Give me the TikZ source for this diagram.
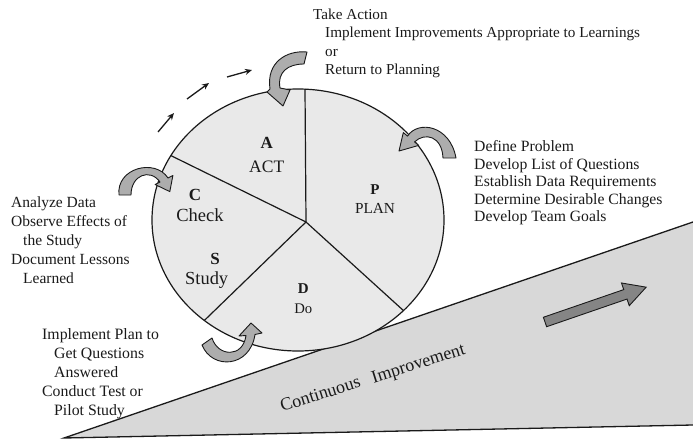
\documentclass[tikz,border=0pt]{standalone}
\usepackage{fontspec}
\setmainfont{Liberation Serif}
\usetikzlibrary{arrows.meta}
\definecolor{piefill}{HTML}{E9E9E9}
\definecolor{trifill}{HTML}{D8D8D8}
\definecolor{bandfill}{HTML}{ADADAD}
\definecolor{bigfill}{HTML}{858585}
\definecolor{inkc}{HTML}{1A1A1A}
\begin{document}
\begin{tikzpicture}[x=1pt,y=-1pt,
  edgeline/.style={draw=inkc,line width=1.3pt},
  pieline/.style={draw=inkc,line width=1.2pt},
  band/.style={draw=inkc,fill=bandfill,line width=0.9pt,line join=round},
  bigarrow/.style={draw=inkc,fill=bigfill,line width=0.9pt,line join=miter},
  smallarrow/.style={draw=inkc,line width=1.3pt,-{Stealth[length=7pt,width=6pt]}},
  sidetext/.style={align=left,inner sep=0pt,anchor=north west,text=inkc},
  pielabel/.style={inner sep=0pt,anchor=base,text=inkc},
  slopetext/.style={inner sep=0pt,rotate=17.5,text=inkc,font=\fontsize{18}{20}\selectfont}]
\useasboundingbox (0,0) rectangle (693,441);
% slope
\fill[trifill] (64,438) -- (693,222) -- (693,425) -- cycle;
\draw[edgeline] (693,222) -- (64,438) -- (693,425);
% pie
\coordinate (pc) at (306,222);
\coordinate (e1) at (305,89);
\coordinate (e2) at (170.9,155.6);
\coordinate (e3) at (204.3,320.5);
\coordinate (e4) at (403.5,310.6);
\filldraw[fill=piefill,draw=inkc,line width=1.2pt] (298,220) ellipse [x radius=146, y radius=131];
\draw[pieline] (pc) -- (e1);
\draw[pieline] (pc) -- (e2);
\draw[pieline] (pc) -- (e3);
\draw[pieline] (pc) -- (e4);
% curved arrows
\draw[band] (307,52) .. controls (287,50) and (266,62) .. (270,89) -- (267,92) -- (283,106) -- (290,90) -- (280,88) .. controls (277,72) and (288,64) .. (304,64) -- cycle;
\draw[band] (456,158) .. controls (450,125) and (418,120) .. (407.5,136.1) -- (403.3,132.6) -- (399,151) -- (418.7,145.4) -- (414.5,141.9) .. controls (425,132) and (442,136) .. (443,158) -- cycle;
\draw[band] (119,195) .. controls (116,168) and (155,158) .. (168,178) -- (172.9,175.5) -- (169.8,191.6) -- (155.1,184.5) -- (160,182) .. controls (150,168) and (131,175) .. (131,195) -- cycle;
\draw[band] (202,345) .. controls (212,370) and (250,368) .. (255,334.5) -- (262,333) -- (251,323) -- (239,336) -- (246,335.5) .. controls (243,358) and (218,357) .. (212,338) -- cycle;
% small arrows
\coordinate (s1a) at (158,132); \coordinate (s1b) at (174,113);
\coordinate (s2a) at (187,99);  \coordinate (s2b) at (209,83);
\coordinate (s3a) at (227,77);  \coordinate (s3b) at (252,70);
\draw[smallarrow] (s1a) -- (s1b);
\draw[smallarrow] (s2a) -- (s2b);
\draw[smallarrow] (s3a) -- (s3b);
% big arrow
\begin{scope}[shift={(545,322)},rotate=19]
\draw[bigarrow] (0,-5) -- (85,-5) -- (85,-12) -- (107,0) -- (85,12) -- (85,5) -- (0,5) -- cycle;
\end{scope}
% pie labels
\node[pielabel,font=\fontsize{17}{20}\selectfont\bfseries] (la) at (266.7,149) {A};
\node[pielabel,font=\fontsize{17.5}{20}\selectfont] (lact) at (266.7,172) {ACT};
\node[pielabel,font=\fontsize{15}{18}\selectfont\bfseries] (lp) at (375,194.3) {P};
\node[pielabel,font=\fontsize{15.3}{18}\selectfont] (lplan) at (375,213.3) {PLAN};
\node[pielabel,font=\fontsize{17}{20}\selectfont\bfseries] (lc) at (195,200.6) {C};
\node[pielabel,font=\fontsize{18.5}{20}\selectfont] (lcheck) at (200,221) {Check};
\node[pielabel,font=\fontsize{17}{20}\selectfont\bfseries] (ls) at (215,264.6) {S};
\node[pielabel,font=\fontsize{18.4}{20}\selectfont] (lstudy) at (206.7,284) {Study};
\node[pielabel,font=\fontsize{15}{18}\selectfont\bfseries] (ld) at (303.3,293.3) {D};
\node[pielabel,font=\fontsize{14.7}{18}\selectfont] (ldo) at (303.3,313.3) {Do};
% side texts
\node[sidetext,font=\fontsize{15.2}{18.5}\selectfont] (acttext) at (313,8.7) {Take Action\\\hspace*{12pt}Implement Improvements Appropriate to Learnings\\\hspace*{12pt}or\\\hspace*{12pt}Return to Planning};
\node[sidetext,font=\fontsize{15.7}{17.5}\selectfont] (plantext) at (474,140.5) {Define Problem\\Develop List of Questions\\Establish Data Requirements\\Determine Desirable Changes\\Develop Team Goals};
\node[sidetext,font=\fontsize{15.5}{18.9}\selectfont] (checktext) at (11,196.5) {Analyze Data\\Observe Effects of\\\hspace*{12pt}the Study\\Document Lessons\\\hspace*{12pt}Learned};
\node[sidetext,font=\fontsize{15.8}{19}\selectfont] (dotext) at (42,328) {Implement Plan to\\\hspace*{12pt}Get Questions\\\hspace*{12pt}Answered\\Conduct Test or\\\hspace*{12pt}Pilot Study};
\node[slopetext] (ci) at (373,379) {Continuous\hspace{0.7em}Improvement};
\end{tikzpicture}
\end{document}
